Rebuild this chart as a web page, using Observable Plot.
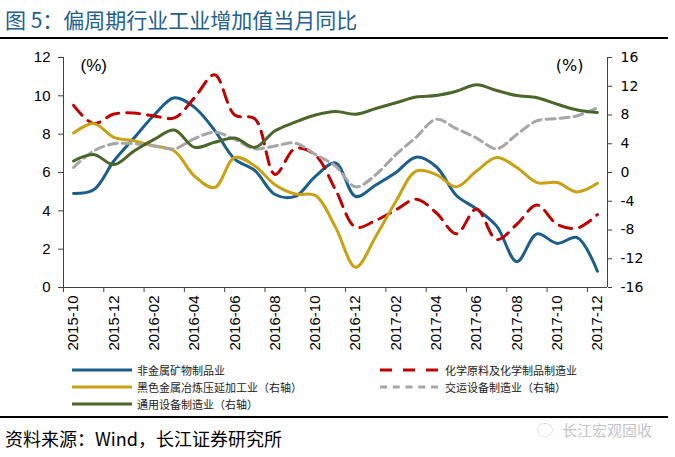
<!DOCTYPE html>
<html><head><meta charset="utf-8">
<script src="https://cdn.jsdelivr.net/npm/d3@7"></script>
<script src="https://cdn.jsdelivr.net/npm/@observablehq/plot@0.6"></script>
<style>
body{margin:0;background:#fff;width:675px;height:457px;overflow:hidden;position:relative;font-family:"Noto Sans CJK SC",sans-serif;}
#title{position:absolute;left:5px;top:7px;font-size:21px;line-height:24px;color:#215e91;white-space:nowrap;}
.hr{position:absolute;left:0;width:668px;height:2px;background:#000;}
#chart{position:absolute;left:0;top:38px;}
.leg{position:absolute;height:16px;display:flex;align-items:center;font-size:11px;color:#1a1a1a;white-space:nowrap;}
.leg svg{display:block;}
#source{position:absolute;left:5px;top:426px;font-size:18px;line-height:24px;color:#000;white-space:nowrap;}
#wm{position:absolute;left:562px;top:421px;font-size:15px;line-height:18px;color:#c4c4c4;white-space:nowrap;}
#wmicon{position:absolute;left:537px;top:423px;width:14px;height:12px;border:1.5px dotted #c4c4c4;border-radius:50%;}
</style></head>
<body>
<div id="title">图 5：偏周期行业工业增加值当月同比</div>
<div class="hr" style="top:37px"></div>
<div id="chart"></div>
<div id="legend"></div>
<div class="hr" style="top:416px"></div>
<div id="source">资料来源：Wind，长江证券研究所</div>
<div id="wmicon"></div>
<div id="wm">长江宏观固收</div>
<script>
// ---- data ----
const months = ["2015-10","2015-11","2015-12","2016-01","2016-02","2016-03","2016-04","2016-05","2016-06","2016-07","2016-08","2016-09","2016-10","2016-11","2016-12","2017-01","2017-02","2017-03","2017-04","2017-05","2017-06","2017-07","2017-08","2017-09","2017-10","2017-11","2017-12"];
// left axis
const nonMetal = [4.9,5.1,6.6,7.8,9.0,9.9,9.4,8.2,6.7,6.1,4.85,4.75,5.8,6.5,4.75,5.35,6.0,6.8,6.3,4.8,4.1,3.2,1.35,2.8,2.3,2.6,0.85];
const chemical = [9.5,8.55,9.05,9.1,8.95,8.85,9.9,11.1,9.0,8.8,5.9,7.25,6.9,5.1,3.15,3.5,4.05,4.6,3.9,2.8,4.1,2.5,3.3,4.3,3.3,3.1,3.8];
// right axis
const ferrous = [5.5,6.8,4.9,4.4,3.7,3.0,-0.5,-2.1,2.1,0.9,-1.7,-3.0,-3.2,-7.6,-13.2,-8.9,-4.0,0.2,-0.3,-2.0,0.2,2.1,0.7,-1.4,-1.4,-2.7,-1.5];
const transport = [0.7,3.0,4.0,4.0,3.7,3.3,4.7,5.6,4.6,3.3,3.7,4.1,2.5,0.9,-2.0,-0.3,2.5,4.9,7.4,6.1,4.8,3.3,5.3,7.2,7.5,7.9,9.0];
const general = [1.6,2.5,1.1,3.0,4.6,5.9,3.5,4.2,4.8,3.5,5.8,7.0,8.0,8.5,8.1,8.9,9.7,10.5,10.7,11.3,12.2,11.4,10.7,10.4,9.5,8.7,8.35];
const leftTicks = [0,2,4,6,8,10,12];
const rightTicks = [-16,-12,-8,-4,0,4,8,12,16];
const seriesNames = ["非金属矿物制品业","化学原料及化学制品制造业","黑色金属冶炼压延加工业（右轴）","交运设备制造业（右轴）","通用设备制造业（右轴）"];

// ---- styles ----
const colors = ["#1b5e8c","#c00000","#c9a112","#a6a6a6","#4a6628"];
const dashes = [null,"13,8",null,"9,5",null];

const toLeft = d3.scaleLinear([-16,16],[0,12]);
const rows = (vals, right) => vals.map((v,i) => ({i, v: right ? toLeft(v) : v}));
const series = [rows(nonMetal,false), rows(chemical,false), rows(ferrous,true), rows(transport,true), rows(general,true)];

const n = months.length;
const boundaryTicks = d3.range(-0.5, n - 1, 2);
const labelIdx = d3.range(0, n, 2);
const axisColor = "#404040";

const chart = Plot.plot({
  width: 675, height: 320,
  marginLeft: 63, marginRight: 68, marginTop: 19, marginBottom: 71,
  style: {fontFamily: "'Liberation Sans', Arial, sans-serif", fontSize: "15px", color: "#000", background: "transparent", overflow: "visible"},
  x: {type: "linear", domain: [-0.5, n - 0.5]},
  y: {domain: [0, 12]},
  marks: [
    Plot.axisY({ticks: leftTicks, tickSize: 5, tickPadding: 8, label: null, stroke: axisColor, fontSize: 15}),
    Plot.axisY({anchor: "right", ticks: rightTicks.map(toLeft), tickFormat: d => String(Math.round(toLeft.invert(d))), tickSize: 4, tickPadding: 9, label: null, stroke: axisColor, fontFamily: "'DejaVu Sans', sans-serif", fontSize: 14}),
    Plot.axisX({ticks: boundaryTicks, tickSize: 5, tickFormat: () => "", label: null, stroke: axisColor}),
    Plot.axisX({ticks: labelIdx, tickSize: 0, tickPadding: 8, tickRotate: -90, tickFormat: i => months[i], label: null, fontSize: 15}),
    Plot.ruleX([-0.5, n - 0.5], {stroke: axisColor}),
    Plot.ruleY([0], {stroke: axisColor}),
    ...series.map((d, k) => Plot.line(d, {x: "i", y: "v", curve: "catmull-rom", stroke: colors[k], strokeWidth: 3, strokeDasharray: dashes[k] ?? undefined})),
    Plot.text(["(%)"], {frameAnchor: "top-left", dx: 17, dy: 8, textAnchor: "start", lineAnchor: "middle", fontSize: 17}),
    Plot.text(["(%)"], {frameAnchor: "top-right", dx: -24, dy: 8, textAnchor: "end", lineAnchor: "middle", fontSize: 16, fontFamily: "'DejaVu Sans', sans-serif"})
  ]
});
document.getElementById("chart").appendChild(chart);

// ---- legend ----
const legPos = [
  {left: 72, cy: 370, sw: 60, dash: null},
  {left: 380, cy: 370, sw: 58, dash: "12,11"},
  {left: 72, cy: 387, sw: 60, dash: null},
  {left: 380, cy: 387, sw: 58, dash: "7,5.75"},
  {left: 72, cy: 404, sw: 60, dash: null}
];
const leg = document.getElementById("legend");
seriesNames.forEach((name, k) => {
  const p = legPos[k];
  const item = document.createElement("div");
  item.className = "leg";
  item.style.left = p.left + "px";
  item.style.top = (p.cy - 8) + "px";
  const gap = k % 2 === 1 ? 7 : 5;
  item.innerHTML = `<svg width="${p.sw}" height="6"><line x1="0" x2="${p.sw}" y1="3" y2="3" stroke="${colors[k]}" stroke-width="3" ${p.dash ? `stroke-dasharray="${p.dash}"` : ""}/></svg><span style="margin-left:${gap}px">${name}</span>`;
  leg.appendChild(item);
});
</script>
</body></html>
